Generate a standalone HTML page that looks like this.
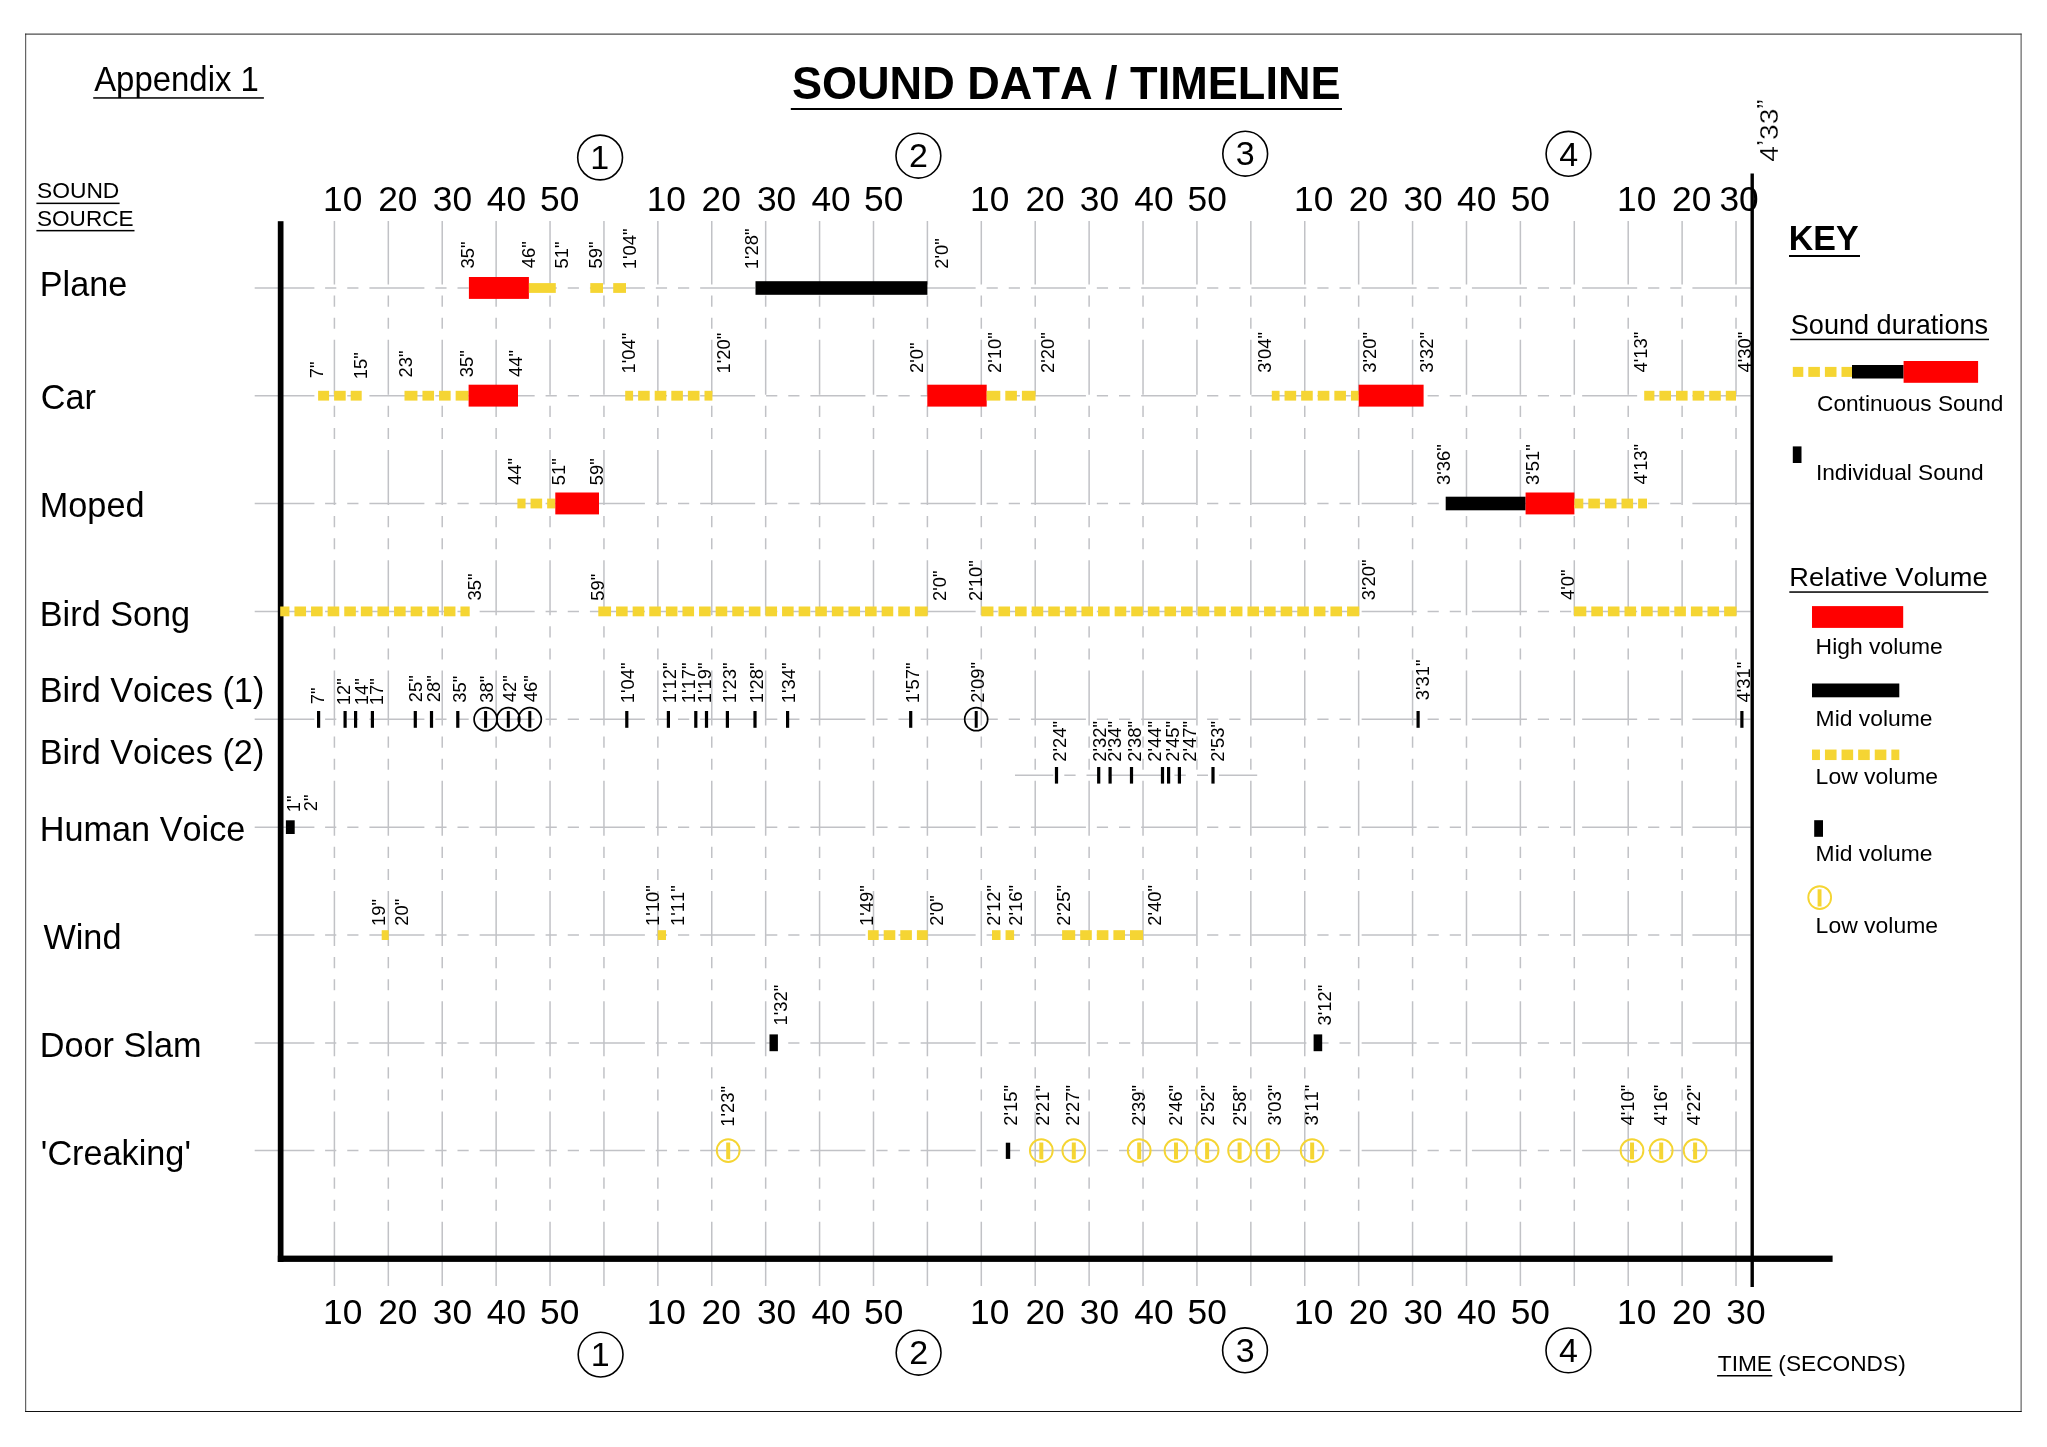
<!DOCTYPE html>
<html><head><meta charset="utf-8"><title>Sound Data / Timeline</title>
<style>html,body{margin:0;padding:0;background:#fff;width:2047px;height:1447px;overflow:hidden}text{font-kerning:none}</style>
</head><body>
<svg width="2047" height="1447" viewBox="0 0 2047 1447" font-family="'Liberation Sans', Arial, sans-serif" style="display:block;font-kerning:none;will-change:transform">
<rect x="0" y="0" width="2047" height="1447" fill="#fff"/>
<rect x="25.1" y="33.6" width="1.1" height="1378.4" fill="#555"/>
<rect x="25.1" y="33.6" width="1996.5" height="1" fill="#222"/>
<rect x="2020.6" y="33.6" width="1" height="1378.4" fill="#444"/>
<rect x="25.1" y="1411" width="1996.5" height="1" fill="#111"/>
<path d="M334.41 221V284.6M334.41 295.5V306.7M334.41 317.65V328.85M334.41 339.8V394.8M334.41 405.75V416.95M334.41 427.9V439.1M334.41 450.05V505.05M334.41 516V527.2M334.41 538.15V549.35M334.41 560.3V615.3M334.41 626.25V637.45M334.41 648.4V659.6M334.41 670.55V725.55M334.41 736.5V747.7M334.41 758.65V769.85M334.41 780.8V835.8M334.41 846.75V857.95M334.41 868.9V880.1M334.41 891.05V946.05M334.41 957V968.2M334.41 979.15V990.35M334.41 1001.3V1056.3M334.41 1067.25V1078.45M334.41 1089.4V1100.6M334.41 1111.55V1166.55M334.41 1177.5V1188.7M334.41 1199.65V1210.85M334.41 1221.8V1276.8M334.41 1221.8V1286M388.32 221V284.6M388.32 295.5V306.7M388.32 317.65V328.85M388.32 339.8V394.8M388.32 405.75V416.95M388.32 427.9V439.1M388.32 450.05V505.05M388.32 516V527.2M388.32 538.15V549.35M388.32 560.3V615.3M388.32 626.25V637.45M388.32 648.4V659.6M388.32 670.55V725.55M388.32 736.5V747.7M388.32 758.65V769.85M388.32 780.8V835.8M388.32 846.75V857.95M388.32 868.9V880.1M388.32 891.05V946.05M388.32 957V968.2M388.32 979.15V990.35M388.32 1001.3V1056.3M388.32 1067.25V1078.45M388.32 1089.4V1100.6M388.32 1111.55V1166.55M388.32 1177.5V1188.7M388.32 1199.65V1210.85M388.32 1221.8V1276.8M388.32 1221.8V1286M442.22 221V284.6M442.22 295.5V306.7M442.22 317.65V328.85M442.22 339.8V394.8M442.22 405.75V416.95M442.22 427.9V439.1M442.22 450.05V505.05M442.22 516V527.2M442.22 538.15V549.35M442.22 560.3V615.3M442.22 626.25V637.45M442.22 648.4V659.6M442.22 670.55V725.55M442.22 736.5V747.7M442.22 758.65V769.85M442.22 780.8V835.8M442.22 846.75V857.95M442.22 868.9V880.1M442.22 891.05V946.05M442.22 957V968.2M442.22 979.15V990.35M442.22 1001.3V1056.3M442.22 1067.25V1078.45M442.22 1089.4V1100.6M442.22 1111.55V1166.55M442.22 1177.5V1188.7M442.22 1199.65V1210.85M442.22 1221.8V1276.8M442.22 1221.8V1286M496.13 221V284.6M496.13 295.5V306.7M496.13 317.65V328.85M496.13 339.8V394.8M496.13 405.75V416.95M496.13 427.9V439.1M496.13 450.05V505.05M496.13 516V527.2M496.13 538.15V549.35M496.13 560.3V615.3M496.13 626.25V637.45M496.13 648.4V659.6M496.13 670.55V725.55M496.13 736.5V747.7M496.13 758.65V769.85M496.13 780.8V835.8M496.13 846.75V857.95M496.13 868.9V880.1M496.13 891.05V946.05M496.13 957V968.2M496.13 979.15V990.35M496.13 1001.3V1056.3M496.13 1067.25V1078.45M496.13 1089.4V1100.6M496.13 1111.55V1166.55M496.13 1177.5V1188.7M496.13 1199.65V1210.85M496.13 1221.8V1276.8M496.13 1221.8V1286M550.04 221V284.6M550.04 295.5V306.7M550.04 317.65V328.85M550.04 339.8V394.8M550.04 405.75V416.95M550.04 427.9V439.1M550.04 450.05V505.05M550.04 516V527.2M550.04 538.15V549.35M550.04 560.3V615.3M550.04 626.25V637.45M550.04 648.4V659.6M550.04 670.55V725.55M550.04 736.5V747.7M550.04 758.65V769.85M550.04 780.8V835.8M550.04 846.75V857.95M550.04 868.9V880.1M550.04 891.05V946.05M550.04 957V968.2M550.04 979.15V990.35M550.04 1001.3V1056.3M550.04 1067.25V1078.45M550.04 1089.4V1100.6M550.04 1111.55V1166.55M550.04 1177.5V1188.7M550.04 1199.65V1210.85M550.04 1221.8V1276.8M550.04 1221.8V1286M603.95 221V284.6M603.95 295.5V306.7M603.95 317.65V328.85M603.95 339.8V394.8M603.95 405.75V416.95M603.95 427.9V439.1M603.95 450.05V505.05M603.95 516V527.2M603.95 538.15V549.35M603.95 560.3V615.3M603.95 626.25V637.45M603.95 648.4V659.6M603.95 670.55V725.55M603.95 736.5V747.7M603.95 758.65V769.85M603.95 780.8V835.8M603.95 846.75V857.95M603.95 868.9V880.1M603.95 891.05V946.05M603.95 957V968.2M603.95 979.15V990.35M603.95 1001.3V1056.3M603.95 1067.25V1078.45M603.95 1089.4V1100.6M603.95 1111.55V1166.55M603.95 1177.5V1188.7M603.95 1199.65V1210.85M603.95 1221.8V1276.8M603.95 1221.8V1286M657.86 221V284.6M657.86 295.5V306.7M657.86 317.65V328.85M657.86 339.8V394.8M657.86 405.75V416.95M657.86 427.9V439.1M657.86 450.05V505.05M657.86 516V527.2M657.86 538.15V549.35M657.86 560.3V615.3M657.86 626.25V637.45M657.86 648.4V659.6M657.86 670.55V725.55M657.86 736.5V747.7M657.86 758.65V769.85M657.86 780.8V835.8M657.86 846.75V857.95M657.86 868.9V880.1M657.86 891.05V946.05M657.86 957V968.2M657.86 979.15V990.35M657.86 1001.3V1056.3M657.86 1067.25V1078.45M657.86 1089.4V1100.6M657.86 1111.55V1166.55M657.86 1177.5V1188.7M657.86 1199.65V1210.85M657.86 1221.8V1276.8M657.86 1221.8V1286M711.76 221V284.6M711.76 295.5V306.7M711.76 317.65V328.85M711.76 339.8V394.8M711.76 405.75V416.95M711.76 427.9V439.1M711.76 450.05V505.05M711.76 516V527.2M711.76 538.15V549.35M711.76 560.3V615.3M711.76 626.25V637.45M711.76 648.4V659.6M711.76 670.55V725.55M711.76 736.5V747.7M711.76 758.65V769.85M711.76 780.8V835.8M711.76 846.75V857.95M711.76 868.9V880.1M711.76 891.05V946.05M711.76 957V968.2M711.76 979.15V990.35M711.76 1001.3V1056.3M711.76 1067.25V1078.45M711.76 1089.4V1100.6M711.76 1111.55V1166.55M711.76 1177.5V1188.7M711.76 1199.65V1210.85M711.76 1221.8V1276.8M711.76 1221.8V1286M765.67 221V284.6M765.67 295.5V306.7M765.67 317.65V328.85M765.67 339.8V394.8M765.67 405.75V416.95M765.67 427.9V439.1M765.67 450.05V505.05M765.67 516V527.2M765.67 538.15V549.35M765.67 560.3V615.3M765.67 626.25V637.45M765.67 648.4V659.6M765.67 670.55V725.55M765.67 736.5V747.7M765.67 758.65V769.85M765.67 780.8V835.8M765.67 846.75V857.95M765.67 868.9V880.1M765.67 891.05V946.05M765.67 957V968.2M765.67 979.15V990.35M765.67 1001.3V1056.3M765.67 1067.25V1078.45M765.67 1089.4V1100.6M765.67 1111.55V1166.55M765.67 1177.5V1188.7M765.67 1199.65V1210.85M765.67 1221.8V1276.8M765.67 1221.8V1286M819.58 221V284.6M819.58 295.5V306.7M819.58 317.65V328.85M819.58 339.8V394.8M819.58 405.75V416.95M819.58 427.9V439.1M819.58 450.05V505.05M819.58 516V527.2M819.58 538.15V549.35M819.58 560.3V615.3M819.58 626.25V637.45M819.58 648.4V659.6M819.58 670.55V725.55M819.58 736.5V747.7M819.58 758.65V769.85M819.58 780.8V835.8M819.58 846.75V857.95M819.58 868.9V880.1M819.58 891.05V946.05M819.58 957V968.2M819.58 979.15V990.35M819.58 1001.3V1056.3M819.58 1067.25V1078.45M819.58 1089.4V1100.6M819.58 1111.55V1166.55M819.58 1177.5V1188.7M819.58 1199.65V1210.85M819.58 1221.8V1276.8M819.58 1221.8V1286M873.49 221V284.6M873.49 295.5V306.7M873.49 317.65V328.85M873.49 339.8V394.8M873.49 405.75V416.95M873.49 427.9V439.1M873.49 450.05V505.05M873.49 516V527.2M873.49 538.15V549.35M873.49 560.3V615.3M873.49 626.25V637.45M873.49 648.4V659.6M873.49 670.55V725.55M873.49 736.5V747.7M873.49 758.65V769.85M873.49 780.8V835.8M873.49 846.75V857.95M873.49 868.9V880.1M873.49 891.05V946.05M873.49 957V968.2M873.49 979.15V990.35M873.49 1001.3V1056.3M873.49 1067.25V1078.45M873.49 1089.4V1100.6M873.49 1111.55V1166.55M873.49 1177.5V1188.7M873.49 1199.65V1210.85M873.49 1221.8V1276.8M873.49 1221.8V1286M927.4 221V284.6M927.4 295.5V306.7M927.4 317.65V328.85M927.4 339.8V394.8M927.4 405.75V416.95M927.4 427.9V439.1M927.4 450.05V505.05M927.4 516V527.2M927.4 538.15V549.35M927.4 560.3V615.3M927.4 626.25V637.45M927.4 648.4V659.6M927.4 670.55V725.55M927.4 736.5V747.7M927.4 758.65V769.85M927.4 780.8V835.8M927.4 846.75V857.95M927.4 868.9V880.1M927.4 891.05V946.05M927.4 957V968.2M927.4 979.15V990.35M927.4 1001.3V1056.3M927.4 1067.25V1078.45M927.4 1089.4V1100.6M927.4 1111.55V1166.55M927.4 1177.5V1188.7M927.4 1199.65V1210.85M927.4 1221.8V1276.8M927.4 1221.8V1286M981.3 221V284.6M981.3 295.5V306.7M981.3 317.65V328.85M981.3 339.8V394.8M981.3 405.75V416.95M981.3 427.9V439.1M981.3 450.05V505.05M981.3 516V527.2M981.3 538.15V549.35M981.3 560.3V615.3M981.3 626.25V637.45M981.3 648.4V659.6M981.3 670.55V725.55M981.3 736.5V747.7M981.3 758.65V769.85M981.3 780.8V835.8M981.3 846.75V857.95M981.3 868.9V880.1M981.3 891.05V946.05M981.3 957V968.2M981.3 979.15V990.35M981.3 1001.3V1056.3M981.3 1067.25V1078.45M981.3 1089.4V1100.6M981.3 1111.55V1166.55M981.3 1177.5V1188.7M981.3 1199.65V1210.85M981.3 1221.8V1276.8M981.3 1221.8V1286M1035.21 221V284.6M1035.21 295.5V306.7M1035.21 317.65V328.85M1035.21 339.8V394.8M1035.21 405.75V416.95M1035.21 427.9V439.1M1035.21 450.05V505.05M1035.21 516V527.2M1035.21 538.15V549.35M1035.21 560.3V615.3M1035.21 626.25V637.45M1035.21 648.4V659.6M1035.21 670.55V725.55M1035.21 736.5V747.7M1035.21 758.65V769.85M1035.21 780.8V835.8M1035.21 846.75V857.95M1035.21 868.9V880.1M1035.21 891.05V946.05M1035.21 957V968.2M1035.21 979.15V990.35M1035.21 1001.3V1056.3M1035.21 1067.25V1078.45M1035.21 1089.4V1100.6M1035.21 1111.55V1166.55M1035.21 1177.5V1188.7M1035.21 1199.65V1210.85M1035.21 1221.8V1276.8M1035.21 1221.8V1286M1089.12 221V284.6M1089.12 295.5V306.7M1089.12 317.65V328.85M1089.12 339.8V394.8M1089.12 405.75V416.95M1089.12 427.9V439.1M1089.12 450.05V505.05M1089.12 516V527.2M1089.12 538.15V549.35M1089.12 560.3V615.3M1089.12 626.25V637.45M1089.12 648.4V659.6M1089.12 670.55V725.55M1089.12 736.5V747.7M1089.12 758.65V769.85M1089.12 780.8V835.8M1089.12 846.75V857.95M1089.12 868.9V880.1M1089.12 891.05V946.05M1089.12 957V968.2M1089.12 979.15V990.35M1089.12 1001.3V1056.3M1089.12 1067.25V1078.45M1089.12 1089.4V1100.6M1089.12 1111.55V1166.55M1089.12 1177.5V1188.7M1089.12 1199.65V1210.85M1089.12 1221.8V1276.8M1089.12 1221.8V1286M1143.03 221V284.6M1143.03 295.5V306.7M1143.03 317.65V328.85M1143.03 339.8V394.8M1143.03 405.75V416.95M1143.03 427.9V439.1M1143.03 450.05V505.05M1143.03 516V527.2M1143.03 538.15V549.35M1143.03 560.3V615.3M1143.03 626.25V637.45M1143.03 648.4V659.6M1143.03 670.55V725.55M1143.03 736.5V747.7M1143.03 758.65V769.85M1143.03 780.8V835.8M1143.03 846.75V857.95M1143.03 868.9V880.1M1143.03 891.05V946.05M1143.03 957V968.2M1143.03 979.15V990.35M1143.03 1001.3V1056.3M1143.03 1067.25V1078.45M1143.03 1089.4V1100.6M1143.03 1111.55V1166.55M1143.03 1177.5V1188.7M1143.03 1199.65V1210.85M1143.03 1221.8V1276.8M1143.03 1221.8V1286M1196.94 221V284.6M1196.94 295.5V306.7M1196.94 317.65V328.85M1196.94 339.8V394.8M1196.94 405.75V416.95M1196.94 427.9V439.1M1196.94 450.05V505.05M1196.94 516V527.2M1196.94 538.15V549.35M1196.94 560.3V615.3M1196.94 626.25V637.45M1196.94 648.4V659.6M1196.94 670.55V725.55M1196.94 736.5V747.7M1196.94 758.65V769.85M1196.94 780.8V835.8M1196.94 846.75V857.95M1196.94 868.9V880.1M1196.94 891.05V946.05M1196.94 957V968.2M1196.94 979.15V990.35M1196.94 1001.3V1056.3M1196.94 1067.25V1078.45M1196.94 1089.4V1100.6M1196.94 1111.55V1166.55M1196.94 1177.5V1188.7M1196.94 1199.65V1210.85M1196.94 1221.8V1276.8M1196.94 1221.8V1286M1250.84 221V284.6M1250.84 295.5V306.7M1250.84 317.65V328.85M1250.84 339.8V394.8M1250.84 405.75V416.95M1250.84 427.9V439.1M1250.84 450.05V505.05M1250.84 516V527.2M1250.84 538.15V549.35M1250.84 560.3V615.3M1250.84 626.25V637.45M1250.84 648.4V659.6M1250.84 670.55V725.55M1250.84 736.5V747.7M1250.84 758.65V769.85M1250.84 780.8V835.8M1250.84 846.75V857.95M1250.84 868.9V880.1M1250.84 891.05V946.05M1250.84 957V968.2M1250.84 979.15V990.35M1250.84 1001.3V1056.3M1250.84 1067.25V1078.45M1250.84 1089.4V1100.6M1250.84 1111.55V1166.55M1250.84 1177.5V1188.7M1250.84 1199.65V1210.85M1250.84 1221.8V1276.8M1250.84 1221.8V1286M1304.75 221V284.6M1304.75 295.5V306.7M1304.75 317.65V328.85M1304.75 339.8V394.8M1304.75 405.75V416.95M1304.75 427.9V439.1M1304.75 450.05V505.05M1304.75 516V527.2M1304.75 538.15V549.35M1304.75 560.3V615.3M1304.75 626.25V637.45M1304.75 648.4V659.6M1304.75 670.55V725.55M1304.75 736.5V747.7M1304.75 758.65V769.85M1304.75 780.8V835.8M1304.75 846.75V857.95M1304.75 868.9V880.1M1304.75 891.05V946.05M1304.75 957V968.2M1304.75 979.15V990.35M1304.75 1001.3V1056.3M1304.75 1067.25V1078.45M1304.75 1089.4V1100.6M1304.75 1111.55V1166.55M1304.75 1177.5V1188.7M1304.75 1199.65V1210.85M1304.75 1221.8V1276.8M1304.75 1221.8V1286M1358.66 221V284.6M1358.66 295.5V306.7M1358.66 317.65V328.85M1358.66 339.8V394.8M1358.66 405.75V416.95M1358.66 427.9V439.1M1358.66 450.05V505.05M1358.66 516V527.2M1358.66 538.15V549.35M1358.66 560.3V615.3M1358.66 626.25V637.45M1358.66 648.4V659.6M1358.66 670.55V725.55M1358.66 736.5V747.7M1358.66 758.65V769.85M1358.66 780.8V835.8M1358.66 846.75V857.95M1358.66 868.9V880.1M1358.66 891.05V946.05M1358.66 957V968.2M1358.66 979.15V990.35M1358.66 1001.3V1056.3M1358.66 1067.25V1078.45M1358.66 1089.4V1100.6M1358.66 1111.55V1166.55M1358.66 1177.5V1188.7M1358.66 1199.65V1210.85M1358.66 1221.8V1276.8M1358.66 1221.8V1286M1412.57 221V284.6M1412.57 295.5V306.7M1412.57 317.65V328.85M1412.57 339.8V394.8M1412.57 405.75V416.95M1412.57 427.9V439.1M1412.57 450.05V505.05M1412.57 516V527.2M1412.57 538.15V549.35M1412.57 560.3V615.3M1412.57 626.25V637.45M1412.57 648.4V659.6M1412.57 670.55V725.55M1412.57 736.5V747.7M1412.57 758.65V769.85M1412.57 780.8V835.8M1412.57 846.75V857.95M1412.57 868.9V880.1M1412.57 891.05V946.05M1412.57 957V968.2M1412.57 979.15V990.35M1412.57 1001.3V1056.3M1412.57 1067.25V1078.45M1412.57 1089.4V1100.6M1412.57 1111.55V1166.55M1412.57 1177.5V1188.7M1412.57 1199.65V1210.85M1412.57 1221.8V1276.8M1412.57 1221.8V1286M1466.48 221V284.6M1466.48 295.5V306.7M1466.48 317.65V328.85M1466.48 339.8V394.8M1466.48 405.75V416.95M1466.48 427.9V439.1M1466.48 450.05V505.05M1466.48 516V527.2M1466.48 538.15V549.35M1466.48 560.3V615.3M1466.48 626.25V637.45M1466.48 648.4V659.6M1466.48 670.55V725.55M1466.48 736.5V747.7M1466.48 758.65V769.85M1466.48 780.8V835.8M1466.48 846.75V857.95M1466.48 868.9V880.1M1466.48 891.05V946.05M1466.48 957V968.2M1466.48 979.15V990.35M1466.48 1001.3V1056.3M1466.48 1067.25V1078.45M1466.48 1089.4V1100.6M1466.48 1111.55V1166.55M1466.48 1177.5V1188.7M1466.48 1199.65V1210.85M1466.48 1221.8V1276.8M1466.48 1221.8V1286M1520.38 221V284.6M1520.38 295.5V306.7M1520.38 317.65V328.85M1520.38 339.8V394.8M1520.38 405.75V416.95M1520.38 427.9V439.1M1520.38 450.05V505.05M1520.38 516V527.2M1520.38 538.15V549.35M1520.38 560.3V615.3M1520.38 626.25V637.45M1520.38 648.4V659.6M1520.38 670.55V725.55M1520.38 736.5V747.7M1520.38 758.65V769.85M1520.38 780.8V835.8M1520.38 846.75V857.95M1520.38 868.9V880.1M1520.38 891.05V946.05M1520.38 957V968.2M1520.38 979.15V990.35M1520.38 1001.3V1056.3M1520.38 1067.25V1078.45M1520.38 1089.4V1100.6M1520.38 1111.55V1166.55M1520.38 1177.5V1188.7M1520.38 1199.65V1210.85M1520.38 1221.8V1276.8M1520.38 1221.8V1286M1574.29 221V284.6M1574.29 295.5V306.7M1574.29 317.65V328.85M1574.29 339.8V394.8M1574.29 405.75V416.95M1574.29 427.9V439.1M1574.29 450.05V505.05M1574.29 516V527.2M1574.29 538.15V549.35M1574.29 560.3V615.3M1574.29 626.25V637.45M1574.29 648.4V659.6M1574.29 670.55V725.55M1574.29 736.5V747.7M1574.29 758.65V769.85M1574.29 780.8V835.8M1574.29 846.75V857.95M1574.29 868.9V880.1M1574.29 891.05V946.05M1574.29 957V968.2M1574.29 979.15V990.35M1574.29 1001.3V1056.3M1574.29 1067.25V1078.45M1574.29 1089.4V1100.6M1574.29 1111.55V1166.55M1574.29 1177.5V1188.7M1574.29 1199.65V1210.85M1574.29 1221.8V1276.8M1574.29 1221.8V1286M1628.2 221V284.6M1628.2 295.5V306.7M1628.2 317.65V328.85M1628.2 339.8V394.8M1628.2 405.75V416.95M1628.2 427.9V439.1M1628.2 450.05V505.05M1628.2 516V527.2M1628.2 538.15V549.35M1628.2 560.3V615.3M1628.2 626.25V637.45M1628.2 648.4V659.6M1628.2 670.55V725.55M1628.2 736.5V747.7M1628.2 758.65V769.85M1628.2 780.8V835.8M1628.2 846.75V857.95M1628.2 868.9V880.1M1628.2 891.05V946.05M1628.2 957V968.2M1628.2 979.15V990.35M1628.2 1001.3V1056.3M1628.2 1067.25V1078.45M1628.2 1089.4V1100.6M1628.2 1111.55V1166.55M1628.2 1177.5V1188.7M1628.2 1199.65V1210.85M1628.2 1221.8V1276.8M1628.2 1221.8V1286M1682.11 221V284.6M1682.11 295.5V306.7M1682.11 317.65V328.85M1682.11 339.8V394.8M1682.11 405.75V416.95M1682.11 427.9V439.1M1682.11 450.05V505.05M1682.11 516V527.2M1682.11 538.15V549.35M1682.11 560.3V615.3M1682.11 626.25V637.45M1682.11 648.4V659.6M1682.11 670.55V725.55M1682.11 736.5V747.7M1682.11 758.65V769.85M1682.11 780.8V835.8M1682.11 846.75V857.95M1682.11 868.9V880.1M1682.11 891.05V946.05M1682.11 957V968.2M1682.11 979.15V990.35M1682.11 1001.3V1056.3M1682.11 1067.25V1078.45M1682.11 1089.4V1100.6M1682.11 1111.55V1166.55M1682.11 1177.5V1188.7M1682.11 1199.65V1210.85M1682.11 1221.8V1276.8M1682.11 1221.8V1286M1736.02 221V284.6M1736.02 295.5V306.7M1736.02 317.65V328.85M1736.02 339.8V394.8M1736.02 405.75V416.95M1736.02 427.9V439.1M1736.02 450.05V505.05M1736.02 516V527.2M1736.02 538.15V549.35M1736.02 560.3V615.3M1736.02 626.25V637.45M1736.02 648.4V659.6M1736.02 670.55V725.55M1736.02 736.5V747.7M1736.02 758.65V769.85M1736.02 780.8V835.8M1736.02 846.75V857.95M1736.02 868.9V880.1M1736.02 891.05V946.05M1736.02 957V968.2M1736.02 979.15V990.35M1736.02 1001.3V1056.3M1736.02 1067.25V1078.45M1736.02 1089.4V1100.6M1736.02 1111.55V1166.55M1736.02 1177.5V1188.7M1736.02 1199.65V1210.85M1736.02 1221.8V1276.8M1736.02 1221.8V1286" stroke="#c1c2c6" stroke-width="1.5" fill="none"/>
<path d="M254.7 288H314.4M325.1 288H336.3M347.25 288H358.45M369.4 288H424.4M435.35 288H446.55M457.5 288H468.7M479.65 288H534.65M545.6 288H556.8M567.75 288H578.95M589.9 288H644.9M655.85 288H667.05M678 288H689.2M700.15 288H755.15M766.1 288H777.3M788.25 288H799.45M810.4 288H865.4M876.35 288H887.55M898.5 288H909.7M920.65 288H975.65M986.6 288H997.8M1008.75 288H1019.95M1030.9 288H1085.9M1096.85 288H1108.05M1119 288H1130.2M1141.15 288H1196.15M1207.1 288H1218.3M1229.25 288H1240.45M1251.4 288H1306.4M1317.35 288H1328.55M1339.5 288H1350.7M1361.65 288H1416.65M1427.6 288H1438.8M1449.75 288H1460.95M1471.9 288H1526.9M1537.85 288H1549.05M1560 288H1571.2M1582.15 288H1637.15M1648.1 288H1659.3M1670.25 288H1681.45M1692.4 288H1750.5M254.7 395.7H314.4M325.1 395.7H336.3M347.25 395.7H358.45M369.4 395.7H424.4M435.35 395.7H446.55M457.5 395.7H468.7M479.65 395.7H534.65M545.6 395.7H556.8M567.75 395.7H578.95M589.9 395.7H644.9M655.85 395.7H667.05M678 395.7H689.2M700.15 395.7H755.15M766.1 395.7H777.3M788.25 395.7H799.45M810.4 395.7H865.4M876.35 395.7H887.55M898.5 395.7H909.7M920.65 395.7H975.65M986.6 395.7H997.8M1008.75 395.7H1019.95M1030.9 395.7H1085.9M1096.85 395.7H1108.05M1119 395.7H1130.2M1141.15 395.7H1196.15M1207.1 395.7H1218.3M1229.25 395.7H1240.45M1251.4 395.7H1306.4M1317.35 395.7H1328.55M1339.5 395.7H1350.7M1361.65 395.7H1416.65M1427.6 395.7H1438.8M1449.75 395.7H1460.95M1471.9 395.7H1526.9M1537.85 395.7H1549.05M1560 395.7H1571.2M1582.15 395.7H1637.15M1648.1 395.7H1659.3M1670.25 395.7H1681.45M1692.4 395.7H1750.5M254.7 503.5H314.4M325.1 503.5H336.3M347.25 503.5H358.45M369.4 503.5H424.4M435.35 503.5H446.55M457.5 503.5H468.7M479.65 503.5H534.65M545.6 503.5H556.8M567.75 503.5H578.95M589.9 503.5H644.9M655.85 503.5H667.05M678 503.5H689.2M700.15 503.5H755.15M766.1 503.5H777.3M788.25 503.5H799.45M810.4 503.5H865.4M876.35 503.5H887.55M898.5 503.5H909.7M920.65 503.5H975.65M986.6 503.5H997.8M1008.75 503.5H1019.95M1030.9 503.5H1085.9M1096.85 503.5H1108.05M1119 503.5H1130.2M1141.15 503.5H1196.15M1207.1 503.5H1218.3M1229.25 503.5H1240.45M1251.4 503.5H1306.4M1317.35 503.5H1328.55M1339.5 503.5H1350.7M1361.65 503.5H1416.65M1427.6 503.5H1438.8M1449.75 503.5H1460.95M1471.9 503.5H1526.9M1537.85 503.5H1549.05M1560 503.5H1571.2M1582.15 503.5H1637.15M1648.1 503.5H1659.3M1670.25 503.5H1681.45M1692.4 503.5H1750.5M254.7 611.4H314.4M325.1 611.4H336.3M347.25 611.4H358.45M369.4 611.4H424.4M435.35 611.4H446.55M457.5 611.4H468.7M479.65 611.4H534.65M545.6 611.4H556.8M567.75 611.4H578.95M589.9 611.4H644.9M655.85 611.4H667.05M678 611.4H689.2M700.15 611.4H755.15M766.1 611.4H777.3M788.25 611.4H799.45M810.4 611.4H865.4M876.35 611.4H887.55M898.5 611.4H909.7M920.65 611.4H975.65M986.6 611.4H997.8M1008.75 611.4H1019.95M1030.9 611.4H1085.9M1096.85 611.4H1108.05M1119 611.4H1130.2M1141.15 611.4H1196.15M1207.1 611.4H1218.3M1229.25 611.4H1240.45M1251.4 611.4H1306.4M1317.35 611.4H1328.55M1339.5 611.4H1350.7M1361.65 611.4H1416.65M1427.6 611.4H1438.8M1449.75 611.4H1460.95M1471.9 611.4H1526.9M1537.85 611.4H1549.05M1560 611.4H1571.2M1582.15 611.4H1637.15M1648.1 611.4H1659.3M1670.25 611.4H1681.45M1692.4 611.4H1750.5M254.7 719.2H314.4M325.1 719.2H336.3M347.25 719.2H358.45M369.4 719.2H424.4M435.35 719.2H446.55M457.5 719.2H468.7M479.65 719.2H534.65M545.6 719.2H556.8M567.75 719.2H578.95M589.9 719.2H644.9M655.85 719.2H667.05M678 719.2H689.2M700.15 719.2H755.15M766.1 719.2H777.3M788.25 719.2H799.45M810.4 719.2H865.4M876.35 719.2H887.55M898.5 719.2H909.7M920.65 719.2H975.65M986.6 719.2H997.8M1008.75 719.2H1019.95M1030.9 719.2H1085.9M1096.85 719.2H1108.05M1119 719.2H1130.2M1141.15 719.2H1196.15M1207.1 719.2H1218.3M1229.25 719.2H1240.45M1251.4 719.2H1306.4M1317.35 719.2H1328.55M1339.5 719.2H1350.7M1361.65 719.2H1416.65M1427.6 719.2H1438.8M1449.75 719.2H1460.95M1471.9 719.2H1526.9M1537.85 719.2H1549.05M1560 719.2H1571.2M1582.15 719.2H1637.15M1648.1 719.2H1659.3M1670.25 719.2H1681.45M1692.4 719.2H1750.5M254.7 827.3H314.4M325.1 827.3H336.3M347.25 827.3H358.45M369.4 827.3H424.4M435.35 827.3H446.55M457.5 827.3H468.7M479.65 827.3H534.65M545.6 827.3H556.8M567.75 827.3H578.95M589.9 827.3H644.9M655.85 827.3H667.05M678 827.3H689.2M700.15 827.3H755.15M766.1 827.3H777.3M788.25 827.3H799.45M810.4 827.3H865.4M876.35 827.3H887.55M898.5 827.3H909.7M920.65 827.3H975.65M986.6 827.3H997.8M1008.75 827.3H1019.95M1030.9 827.3H1085.9M1096.85 827.3H1108.05M1119 827.3H1130.2M1141.15 827.3H1196.15M1207.1 827.3H1218.3M1229.25 827.3H1240.45M1251.4 827.3H1306.4M1317.35 827.3H1328.55M1339.5 827.3H1350.7M1361.65 827.3H1416.65M1427.6 827.3H1438.8M1449.75 827.3H1460.95M1471.9 827.3H1526.9M1537.85 827.3H1549.05M1560 827.3H1571.2M1582.15 827.3H1637.15M1648.1 827.3H1659.3M1670.25 827.3H1681.45M1692.4 827.3H1750.5M254.7 935.1H314.4M325.1 935.1H336.3M347.25 935.1H358.45M369.4 935.1H424.4M435.35 935.1H446.55M457.5 935.1H468.7M479.65 935.1H534.65M545.6 935.1H556.8M567.75 935.1H578.95M589.9 935.1H644.9M655.85 935.1H667.05M678 935.1H689.2M700.15 935.1H755.15M766.1 935.1H777.3M788.25 935.1H799.45M810.4 935.1H865.4M876.35 935.1H887.55M898.5 935.1H909.7M920.65 935.1H975.65M986.6 935.1H997.8M1008.75 935.1H1019.95M1030.9 935.1H1085.9M1096.85 935.1H1108.05M1119 935.1H1130.2M1141.15 935.1H1196.15M1207.1 935.1H1218.3M1229.25 935.1H1240.45M1251.4 935.1H1306.4M1317.35 935.1H1328.55M1339.5 935.1H1350.7M1361.65 935.1H1416.65M1427.6 935.1H1438.8M1449.75 935.1H1460.95M1471.9 935.1H1526.9M1537.85 935.1H1549.05M1560 935.1H1571.2M1582.15 935.1H1637.15M1648.1 935.1H1659.3M1670.25 935.1H1681.45M1692.4 935.1H1750.5M254.7 1042.9H314.4M325.1 1042.9H336.3M347.25 1042.9H358.45M369.4 1042.9H424.4M435.35 1042.9H446.55M457.5 1042.9H468.7M479.65 1042.9H534.65M545.6 1042.9H556.8M567.75 1042.9H578.95M589.9 1042.9H644.9M655.85 1042.9H667.05M678 1042.9H689.2M700.15 1042.9H755.15M766.1 1042.9H777.3M788.25 1042.9H799.45M810.4 1042.9H865.4M876.35 1042.9H887.55M898.5 1042.9H909.7M920.65 1042.9H975.65M986.6 1042.9H997.8M1008.75 1042.9H1019.95M1030.9 1042.9H1085.9M1096.85 1042.9H1108.05M1119 1042.9H1130.2M1141.15 1042.9H1196.15M1207.1 1042.9H1218.3M1229.25 1042.9H1240.45M1251.4 1042.9H1306.4M1317.35 1042.9H1328.55M1339.5 1042.9H1350.7M1361.65 1042.9H1416.65M1427.6 1042.9H1438.8M1449.75 1042.9H1460.95M1471.9 1042.9H1526.9M1537.85 1042.9H1549.05M1560 1042.9H1571.2M1582.15 1042.9H1637.15M1648.1 1042.9H1659.3M1670.25 1042.9H1681.45M1692.4 1042.9H1750.5M254.7 1150.6H314.4M325.1 1150.6H336.3M347.25 1150.6H358.45M369.4 1150.6H424.4M435.35 1150.6H446.55M457.5 1150.6H468.7M479.65 1150.6H534.65M545.6 1150.6H556.8M567.75 1150.6H578.95M589.9 1150.6H644.9M655.85 1150.6H667.05M678 1150.6H689.2M700.15 1150.6H755.15M766.1 1150.6H777.3M788.25 1150.6H799.45M810.4 1150.6H865.4M876.35 1150.6H887.55M898.5 1150.6H909.7M920.65 1150.6H975.65M986.6 1150.6H997.8M1008.75 1150.6H1019.95M1030.9 1150.6H1085.9M1096.85 1150.6H1108.05M1119 1150.6H1130.2M1141.15 1150.6H1196.15M1207.1 1150.6H1218.3M1229.25 1150.6H1240.45M1251.4 1150.6H1306.4M1317.35 1150.6H1328.55M1339.5 1150.6H1350.7M1361.65 1150.6H1416.65M1427.6 1150.6H1438.8M1449.75 1150.6H1460.95M1471.9 1150.6H1526.9M1537.85 1150.6H1549.05M1560 1150.6H1571.2M1582.15 1150.6H1637.15M1648.1 1150.6H1659.3M1670.25 1150.6H1681.45M1692.4 1150.6H1750.5M1015 775.3H1053.3M1064.3 775.3H1075.6M1086.5 775.3H1097.7M1108.6 775.3H1163.6M1174.4 775.3H1185.8M1197 775.3H1208M1218.9 775.3H1257.2" stroke="#c1c2c6" stroke-width="1.5" fill="none"/>
<rect x="277.8" y="221.2" width="5.7" height="1040.8" fill="#000"/>
<rect x="277.8" y="1255.6" width="1554.8" height="6.3" fill="#000"/>
<rect x="1750.5" y="173.5" width="3.4" height="1113.5" fill="#000"/>
<text transform="translate(94.14,90.8) scale(0.9285,1)" font-size="35.47" fill="#000">Appendix 1</text>
<rect x="93.2" y="97.2" width="170.7" height="1.5" fill="#000"/>
<text transform="translate(791.9,99) scale(0.9701,1)" font-size="46.51" font-weight="bold" fill="#000">SOUND DATA / TIMELINE</text>
<rect x="790.8" y="108" width="551.2" height="2" fill="#000"/>
<text transform="translate(36.96,197.7) scale(1.0400,1)" font-size="21.95" fill="#000">SOUND</text>
<rect x="36.4" y="202.6" width="83.2" height="1.5" fill="#000"/>
<text transform="translate(36.97,225.7) scale(1.0022,1)" font-size="22.53" fill="#000">SOURCE</text>
<rect x="36.4" y="229.9" width="98.1" height="1.5" fill="#000"/>
<text transform="translate(39.79,296.4) scale(0.9900,1)" font-size="34.6" fill="#000">Plane</text>
<text transform="translate(40.86,409.2) scale(0.9900,1)" font-size="34.6" fill="#000">Car</text>
<text transform="translate(39.79,517.1) scale(0.9900,1)" font-size="34.6" fill="#000">Moped</text>
<text transform="translate(39.79,625.5) scale(0.9900,1)" font-size="34.6" fill="#000">Bird Song</text>
<text transform="translate(39.79,702.1) scale(0.9900,1)" font-size="34.6" fill="#000">Bird Voices (1)</text>
<text transform="translate(39.79,764.1) scale(0.9900,1)" font-size="34.6" fill="#000">Bird Voices (2)</text>
<text transform="translate(39.79,841) scale(0.9900,1)" font-size="34.6" fill="#000">Human Voice</text>
<text transform="translate(43.45,949) scale(0.9900,1)" font-size="34.6" fill="#000">Wind</text>
<text transform="translate(39.79,1057.1) scale(0.9900,1)" font-size="34.6" fill="#000">Door Slam</text>
<text transform="translate(40.86,1164.9) scale(0.9900,1)" font-size="34.6" fill="#000">'Creaking'</text>
<text transform="translate(323.11,210.9)" font-size="35.3" fill="#000">10</text>
<text transform="translate(323.11,1323.6)" font-size="35.3" fill="#000">10</text>
<text transform="translate(378.22,210.9)" font-size="35.3" fill="#000">20</text>
<text transform="translate(378.22,1323.6)" font-size="35.3" fill="#000">20</text>
<text transform="translate(432.76,210.9)" font-size="35.3" fill="#000">30</text>
<text transform="translate(432.76,1323.6)" font-size="35.3" fill="#000">30</text>
<text transform="translate(486.79,210.9)" font-size="35.3" fill="#000">40</text>
<text transform="translate(486.79,1323.6)" font-size="35.3" fill="#000">40</text>
<text transform="translate(540.09,210.9)" font-size="35.3" fill="#000">50</text>
<text transform="translate(540.09,1323.6)" font-size="35.3" fill="#000">50</text>
<text transform="translate(646.71,210.9)" font-size="35.3" fill="#000">10</text>
<text transform="translate(646.71,1323.6)" font-size="35.3" fill="#000">10</text>
<text transform="translate(701.52,210.9)" font-size="35.3" fill="#000">20</text>
<text transform="translate(701.52,1323.6)" font-size="35.3" fill="#000">20</text>
<text transform="translate(756.96,210.9)" font-size="35.3" fill="#000">30</text>
<text transform="translate(756.96,1323.6)" font-size="35.3" fill="#000">30</text>
<text transform="translate(811.39,210.9)" font-size="35.3" fill="#000">40</text>
<text transform="translate(811.39,1323.6)" font-size="35.3" fill="#000">40</text>
<text transform="translate(864.09,210.9)" font-size="35.3" fill="#000">50</text>
<text transform="translate(864.09,1323.6)" font-size="35.3" fill="#000">50</text>
<text transform="translate(970.11,210.9)" font-size="35.3" fill="#000">10</text>
<text transform="translate(970.11,1323.6)" font-size="35.3" fill="#000">10</text>
<text transform="translate(1025.42,210.9)" font-size="35.3" fill="#000">20</text>
<text transform="translate(1025.42,1323.6)" font-size="35.3" fill="#000">20</text>
<text transform="translate(1079.86,210.9)" font-size="35.3" fill="#000">30</text>
<text transform="translate(1079.86,1323.6)" font-size="35.3" fill="#000">30</text>
<text transform="translate(1134.29,210.9)" font-size="35.3" fill="#000">40</text>
<text transform="translate(1134.29,1323.6)" font-size="35.3" fill="#000">40</text>
<text transform="translate(1187.59,210.9)" font-size="35.3" fill="#000">50</text>
<text transform="translate(1187.59,1323.6)" font-size="35.3" fill="#000">50</text>
<text transform="translate(1294.01,210.9)" font-size="35.3" fill="#000">10</text>
<text transform="translate(1294.01,1323.6)" font-size="35.3" fill="#000">10</text>
<text transform="translate(1348.82,210.9)" font-size="35.3" fill="#000">20</text>
<text transform="translate(1348.82,1323.6)" font-size="35.3" fill="#000">20</text>
<text transform="translate(1403.46,210.9)" font-size="35.3" fill="#000">30</text>
<text transform="translate(1403.46,1323.6)" font-size="35.3" fill="#000">30</text>
<text transform="translate(1457.09,210.9)" font-size="35.3" fill="#000">40</text>
<text transform="translate(1457.09,1323.6)" font-size="35.3" fill="#000">40</text>
<text transform="translate(1510.69,210.9)" font-size="35.3" fill="#000">50</text>
<text transform="translate(1510.69,1323.6)" font-size="35.3" fill="#000">50</text>
<text transform="translate(1617.01,210.9)" font-size="35.3" fill="#000">10</text>
<text transform="translate(1617.01,1323.6)" font-size="35.3" fill="#000">10</text>
<text transform="translate(1672.12,210.9)" font-size="35.3" fill="#000">20</text>
<text transform="translate(1672.12,1323.6)" font-size="35.3" fill="#000">20</text>
<text transform="translate(1719.46,210.9)" font-size="35.3" fill="#000">30</text>
<text transform="translate(1726.26,1323.6)" font-size="35.3" fill="#000">30</text>
<circle cx="600.1" cy="157.5" r="22.4" fill="none" stroke="#000" stroke-width="1.6"/>
<text transform="translate(590.18,169.2)" font-size="34" fill="#000">1</text>
<circle cx="918.4" cy="155.7" r="22.4" fill="none" stroke="#000" stroke-width="1.6"/>
<text transform="translate(908.95,167.4)" font-size="34" fill="#000">2</text>
<circle cx="1245.2" cy="153.7" r="22.4" fill="none" stroke="#000" stroke-width="1.6"/>
<text transform="translate(1235.85,165.4)" font-size="34" fill="#000">3</text>
<circle cx="1568.5" cy="153.8" r="22.4" fill="none" stroke="#000" stroke-width="1.6"/>
<text transform="translate(1559.15,165.5)" font-size="34" fill="#000">4</text>
<circle cx="600.6" cy="1354.6" r="22.4" fill="none" stroke="#000" stroke-width="1.6"/>
<text transform="translate(590.68,1366.3)" font-size="34" fill="#000">1</text>
<circle cx="918.6" cy="1352.7" r="22.4" fill="none" stroke="#000" stroke-width="1.6"/>
<text transform="translate(909.15,1364.4)" font-size="34" fill="#000">2</text>
<circle cx="1245" cy="1350.3" r="22.4" fill="none" stroke="#000" stroke-width="1.6"/>
<text transform="translate(1235.65,1362)" font-size="34" fill="#000">3</text>
<circle cx="1568.4" cy="1350.4" r="22.4" fill="none" stroke="#000" stroke-width="1.6"/>
<text transform="translate(1559.05,1362.1)" font-size="34" fill="#000">4</text>
<text transform="translate(1777.9,161.75) rotate(-90) scale(1.11,1)" font-size="25.3" stroke="#fff" stroke-width="0.25">4<tspan dy="-2.5">’</tspan><tspan dy="2.5">33</tspan><tspan dy="-2.5">”</tspan></text>
<text transform="translate(1717.79,1370.9) scale(1.0082,1)" font-size="22.53" fill="#000">TIME (SECONDS)</text>
<rect x="1717.1" y="1375" width="55.2" height="1.5" fill="#000"/>
<text transform="translate(1788.83,249.8) scale(0.9775,1)" font-size="34.74" font-weight="bold" fill="#000">KEY</text>
<rect x="1789" y="255" width="71" height="2" fill="#000"/>
<text transform="translate(1790.77,333.9) scale(0.9972,1)" font-size="27.18" fill="#000">Sound durations</text>
<rect x="1790.2" y="338.7" width="198.8" height="1.5" fill="#000"/>
<rect x="1792.8" y="366.9" width="10.5" height="10" fill="#f5d533"/>
<rect x="1808.3" y="366.9" width="11.6" height="10" fill="#f5d533"/>
<rect x="1824.9" y="366.9" width="11.6" height="10" fill="#f5d533"/>
<rect x="1841.5" y="366.9" width="10.5" height="10" fill="#f5d533"/>
<rect x="1852" y="365" width="51.6" height="13.5" fill="#000"/>
<rect x="1903.6" y="361" width="74.5" height="21.8" fill="#ff0000"/>
<text transform="translate(1817.05,410.8) scale(0.9865,1)" font-size="22.97" fill="#000">Continuous Sound</text>
<rect x="1792.8" y="446.4" width="8.7" height="16.6" fill="#000"/>
<text transform="translate(1815.91,480) scale(0.9885,1)" font-size="22.97" fill="#000">Individual Sound</text>
<text transform="translate(1789.37,585.9) scale(1.0349,1)" font-size="26.31" fill="#000">Relative Volume</text>
<rect x="1789.3" y="591.3" width="199" height="1.5" fill="#000"/>
<rect x="1812" y="606.1" width="91.2" height="21.8" fill="#ff0000"/>
<text transform="translate(1815.62,654.4) scale(1.0101,1)" font-size="22.67" fill="#000">High volume</text>
<rect x="1812" y="683.5" width="87.3" height="13.8" fill="#000"/>
<text transform="translate(1815.62,726) scale(1.0223,1)" font-size="22.38" fill="#000">Mid volume</text>
<rect x="1812" y="749.55" width="7.95" height="10.5" fill="#f5d533"/>
<rect x="1824.95" y="749.55" width="11.6" height="10.5" fill="#f5d533"/>
<rect x="1841.55" y="749.55" width="11.6" height="10.5" fill="#f5d533"/>
<rect x="1858.15" y="749.55" width="11.6" height="10.5" fill="#f5d533"/>
<rect x="1874.75" y="749.55" width="11.6" height="10.5" fill="#f5d533"/>
<rect x="1891.35" y="749.55" width="7.95" height="10.5" fill="#f5d533"/>
<text transform="translate(1815.62,784) scale(1.0265,1)" font-size="22.38" fill="#000">Low volume</text>
<rect x="1814.2" y="820.2" width="8.8" height="16.6" fill="#000"/>
<text transform="translate(1815.62,860.9) scale(1.0223,1)" font-size="22.38" fill="#000">Mid volume</text>
<circle cx="1819.7" cy="897.6" r="11.4" fill="none" stroke="#f5d533" stroke-width="1.9"/>
<rect x="1817.6" y="889.3" width="3.9" height="17.2" fill="#f5d533"/>
<text transform="translate(1815.62,932.7) scale(1.0265,1)" font-size="22.38" fill="#000">Low volume</text>
<rect x="468.9" y="277" width="60" height="21.9" fill="#ff0000"/>
<rect x="528.9" y="283.1" width="26.9" height="9.8" fill="#f5d533"/>
<rect x="590.3" y="283.1" width="12.7" height="9.8" fill="#f5d533"/>
<rect x="613.2" y="283.1" width="12.8" height="9.8" fill="#f5d533"/>
<rect x="755.5" y="281.2" width="171.9" height="13.6" fill="#000"/>
<text transform="translate(474,268.5) rotate(-90) scale(0.960,1)" font-size="19.2">35&quot;</text>
<text transform="translate(534.5,268.22) rotate(-90) scale(0.960,1)" font-size="19.2">46&quot;</text>
<text transform="translate(567.8,268.54) rotate(-90) scale(0.960,1)" font-size="19.2">51&quot;</text>
<text transform="translate(602.4,268.54) rotate(-90) scale(0.960,1)" font-size="19.2">59&quot;</text>
<text transform="translate(635.7,269.2) rotate(-90) scale(0.960,1)" font-size="19.2">1'04&quot;</text>
<text transform="translate(758.2,269.2) rotate(-90) scale(0.960,1)" font-size="19.2">1'28&quot;</text>
<text transform="translate(948.3,268.73) rotate(-90) scale(0.960,1)" font-size="19.2">2'0&quot;</text>
<rect x="318.1" y="390.8" width="11" height="9.8" fill="#f5d533"/>
<rect x="334.1" y="390.8" width="11.6" height="9.8" fill="#f5d533"/>
<rect x="350.7" y="390.8" width="11" height="9.8" fill="#f5d533"/>
<rect x="404.5" y="390.8" width="12.95" height="9.8" fill="#f5d533"/>
<rect x="422.45" y="390.8" width="11.6" height="9.8" fill="#f5d533"/>
<rect x="439.05" y="390.8" width="11.6" height="9.8" fill="#f5d533"/>
<rect x="455.65" y="390.8" width="12.95" height="9.8" fill="#f5d533"/>
<rect x="468.6" y="384.7" width="49.4" height="21.9" fill="#ff0000"/>
<rect x="625.2" y="390.8" width="7.9" height="9.8" fill="#f5d533"/>
<rect x="638.1" y="390.8" width="11.6" height="9.8" fill="#f5d533"/>
<rect x="654.7" y="390.8" width="11.6" height="9.8" fill="#f5d533"/>
<rect x="671.3" y="390.8" width="11.6" height="9.8" fill="#f5d533"/>
<rect x="687.9" y="390.8" width="11.6" height="9.8" fill="#f5d533"/>
<rect x="704.5" y="390.8" width="7.9" height="9.8" fill="#f5d533"/>
<rect x="927.3" y="384.7" width="59.4" height="21.9" fill="#ff0000"/>
<rect x="986.7" y="390.8" width="13.6" height="9.8" fill="#f5d533"/>
<rect x="1005.3" y="390.8" width="11.6" height="9.8" fill="#f5d533"/>
<rect x="1021.9" y="390.8" width="13.6" height="9.8" fill="#f5d533"/>
<rect x="1271.8" y="390.8" width="7.75" height="9.8" fill="#f5d533"/>
<rect x="1284.55" y="390.8" width="11.6" height="9.8" fill="#f5d533"/>
<rect x="1301.15" y="390.8" width="11.6" height="9.8" fill="#f5d533"/>
<rect x="1317.75" y="390.8" width="11.6" height="9.8" fill="#f5d533"/>
<rect x="1334.35" y="390.8" width="11.6" height="9.8" fill="#f5d533"/>
<rect x="1350.95" y="390.8" width="7.75" height="9.8" fill="#f5d533"/>
<rect x="1358.7" y="384.7" width="64.9" height="21.9" fill="#ff0000"/>
<rect x="1644.2" y="390.8" width="10.2" height="9.8" fill="#f5d533"/>
<rect x="1659.4" y="390.8" width="11.6" height="9.8" fill="#f5d533"/>
<rect x="1676" y="390.8" width="11.6" height="9.8" fill="#f5d533"/>
<rect x="1692.6" y="390.8" width="11.6" height="9.8" fill="#f5d533"/>
<rect x="1709.2" y="390.8" width="11.6" height="9.8" fill="#f5d533"/>
<rect x="1725.8" y="390.8" width="10.2" height="9.8" fill="#f5d533"/>
<text transform="translate(323.1,378.14) rotate(-90) scale(0.960,1)" font-size="19.2">7&quot;</text>
<text transform="translate(366.6,379.2) rotate(-90) scale(0.960,1)" font-size="19.2">15&quot;</text>
<text transform="translate(412,377.53) rotate(-90) scale(0.960,1)" font-size="19.2">23&quot;</text>
<text transform="translate(472.9,377.3) rotate(-90) scale(0.960,1)" font-size="19.2">35&quot;</text>
<text transform="translate(522,377.02) rotate(-90) scale(0.960,1)" font-size="19.2">44&quot;</text>
<text transform="translate(635.4,373.4) rotate(-90) scale(0.960,1)" font-size="19.2">1'04&quot;</text>
<text transform="translate(730.2,373.4) rotate(-90) scale(0.960,1)" font-size="19.2">1'20&quot;</text>
<text transform="translate(922.9,372.93) rotate(-90) scale(0.960,1)" font-size="19.2">2'0&quot;</text>
<text transform="translate(1000.6,372.93) rotate(-90) scale(0.960,1)" font-size="19.2">2'10&quot;</text>
<text transform="translate(1054.3,372.93) rotate(-90) scale(0.960,1)" font-size="19.2">2'20&quot;</text>
<text transform="translate(1271,372.8) rotate(-90) scale(0.960,1)" font-size="19.2">3'04&quot;</text>
<text transform="translate(1376,372.8) rotate(-90) scale(0.960,1)" font-size="19.2">3'20&quot;</text>
<text transform="translate(1432.5,372.8) rotate(-90) scale(0.960,1)" font-size="19.2">3'32&quot;</text>
<text transform="translate(1647,372.52) rotate(-90) scale(0.960,1)" font-size="19.2">4'13&quot;</text>
<text transform="translate(1751.4,372.52) rotate(-90) scale(0.960,1)" font-size="19.2">4'30&quot;</text>
<rect x="517.4" y="498.6" width="8.15" height="9.8" fill="#f5d533"/>
<rect x="530.55" y="498.6" width="11.6" height="9.8" fill="#f5d533"/>
<rect x="547.15" y="498.6" width="8.15" height="9.8" fill="#f5d533"/>
<rect x="555.3" y="492.5" width="43.7" height="21.9" fill="#ff0000"/>
<rect x="1445.7" y="496.7" width="79.9" height="13.6" fill="#000"/>
<rect x="1525.6" y="492.5" width="48.8" height="21.9" fill="#ff0000"/>
<rect x="1574.4" y="498.6" width="8.9" height="9.8" fill="#f5d533"/>
<rect x="1588.3" y="498.6" width="11.6" height="9.8" fill="#f5d533"/>
<rect x="1604.9" y="498.6" width="11.6" height="9.8" fill="#f5d533"/>
<rect x="1621.5" y="498.6" width="11.6" height="9.8" fill="#f5d533"/>
<rect x="1638.1" y="498.6" width="8.9" height="9.8" fill="#f5d533"/>
<text transform="translate(520.8,485.02) rotate(-90) scale(0.960,1)" font-size="19.2">44&quot;</text>
<text transform="translate(565.2,485.34) rotate(-90) scale(0.960,1)" font-size="19.2">51&quot;</text>
<text transform="translate(603.3,485.34) rotate(-90) scale(0.960,1)" font-size="19.2">59&quot;</text>
<text transform="translate(1449.8,484.9) rotate(-90) scale(0.960,1)" font-size="19.2">3'36&quot;</text>
<text transform="translate(1538.9,484.9) rotate(-90) scale(0.960,1)" font-size="19.2">3'51&quot;</text>
<text transform="translate(1646.7,484.62) rotate(-90) scale(0.960,1)" font-size="19.2">4'13&quot;</text>
<rect x="280.2" y="606.5" width="9.25" height="9.8" fill="#f5d533"/>
<rect x="294.45" y="606.5" width="11.6" height="9.8" fill="#f5d533"/>
<rect x="311.05" y="606.5" width="11.6" height="9.8" fill="#f5d533"/>
<rect x="327.65" y="606.5" width="11.6" height="9.8" fill="#f5d533"/>
<rect x="344.25" y="606.5" width="11.6" height="9.8" fill="#f5d533"/>
<rect x="360.85" y="606.5" width="11.6" height="9.8" fill="#f5d533"/>
<rect x="377.45" y="606.5" width="11.6" height="9.8" fill="#f5d533"/>
<rect x="394.05" y="606.5" width="11.6" height="9.8" fill="#f5d533"/>
<rect x="410.65" y="606.5" width="11.6" height="9.8" fill="#f5d533"/>
<rect x="427.25" y="606.5" width="11.6" height="9.8" fill="#f5d533"/>
<rect x="443.85" y="606.5" width="11.6" height="9.8" fill="#f5d533"/>
<rect x="460.45" y="606.5" width="9.25" height="9.8" fill="#f5d533"/>
<rect x="598.3" y="606.5" width="12.75" height="9.8" fill="#f5d533"/>
<rect x="616.05" y="606.5" width="11.6" height="9.8" fill="#f5d533"/>
<rect x="632.65" y="606.5" width="11.6" height="9.8" fill="#f5d533"/>
<rect x="649.25" y="606.5" width="11.6" height="9.8" fill="#f5d533"/>
<rect x="665.85" y="606.5" width="11.6" height="9.8" fill="#f5d533"/>
<rect x="682.45" y="606.5" width="11.6" height="9.8" fill="#f5d533"/>
<rect x="699.05" y="606.5" width="11.6" height="9.8" fill="#f5d533"/>
<rect x="715.65" y="606.5" width="11.6" height="9.8" fill="#f5d533"/>
<rect x="732.25" y="606.5" width="11.6" height="9.8" fill="#f5d533"/>
<rect x="748.85" y="606.5" width="11.6" height="9.8" fill="#f5d533"/>
<rect x="765.45" y="606.5" width="11.6" height="9.8" fill="#f5d533"/>
<rect x="782.05" y="606.5" width="11.6" height="9.8" fill="#f5d533"/>
<rect x="798.65" y="606.5" width="11.6" height="9.8" fill="#f5d533"/>
<rect x="815.25" y="606.5" width="11.6" height="9.8" fill="#f5d533"/>
<rect x="831.85" y="606.5" width="11.6" height="9.8" fill="#f5d533"/>
<rect x="848.45" y="606.5" width="11.6" height="9.8" fill="#f5d533"/>
<rect x="865.05" y="606.5" width="11.6" height="9.8" fill="#f5d533"/>
<rect x="881.65" y="606.5" width="11.6" height="9.8" fill="#f5d533"/>
<rect x="898.25" y="606.5" width="11.6" height="9.8" fill="#f5d533"/>
<rect x="914.85" y="606.5" width="12.75" height="9.8" fill="#f5d533"/>
<rect x="981.3" y="606.5" width="12.15" height="9.8" fill="#f5d533"/>
<rect x="998.45" y="606.5" width="11.6" height="9.8" fill="#f5d533"/>
<rect x="1015.05" y="606.5" width="11.6" height="9.8" fill="#f5d533"/>
<rect x="1031.65" y="606.5" width="11.6" height="9.8" fill="#f5d533"/>
<rect x="1048.25" y="606.5" width="11.6" height="9.8" fill="#f5d533"/>
<rect x="1064.85" y="606.5" width="11.6" height="9.8" fill="#f5d533"/>
<rect x="1081.45" y="606.5" width="11.6" height="9.8" fill="#f5d533"/>
<rect x="1098.05" y="606.5" width="11.6" height="9.8" fill="#f5d533"/>
<rect x="1114.65" y="606.5" width="11.6" height="9.8" fill="#f5d533"/>
<rect x="1131.25" y="606.5" width="11.6" height="9.8" fill="#f5d533"/>
<rect x="1147.85" y="606.5" width="11.6" height="9.8" fill="#f5d533"/>
<rect x="1164.45" y="606.5" width="11.6" height="9.8" fill="#f5d533"/>
<rect x="1181.05" y="606.5" width="11.6" height="9.8" fill="#f5d533"/>
<rect x="1197.65" y="606.5" width="11.6" height="9.8" fill="#f5d533"/>
<rect x="1214.25" y="606.5" width="11.6" height="9.8" fill="#f5d533"/>
<rect x="1230.85" y="606.5" width="11.6" height="9.8" fill="#f5d533"/>
<rect x="1247.45" y="606.5" width="11.6" height="9.8" fill="#f5d533"/>
<rect x="1264.05" y="606.5" width="11.6" height="9.8" fill="#f5d533"/>
<rect x="1280.65" y="606.5" width="11.6" height="9.8" fill="#f5d533"/>
<rect x="1297.25" y="606.5" width="11.6" height="9.8" fill="#f5d533"/>
<rect x="1313.85" y="606.5" width="11.6" height="9.8" fill="#f5d533"/>
<rect x="1330.45" y="606.5" width="11.6" height="9.8" fill="#f5d533"/>
<rect x="1347.05" y="606.5" width="12.15" height="9.8" fill="#f5d533"/>
<rect x="1573.9" y="606.5" width="12.4" height="9.8" fill="#f5d533"/>
<rect x="1591.3" y="606.5" width="11.6" height="9.8" fill="#f5d533"/>
<rect x="1607.9" y="606.5" width="11.6" height="9.8" fill="#f5d533"/>
<rect x="1624.5" y="606.5" width="11.6" height="9.8" fill="#f5d533"/>
<rect x="1641.1" y="606.5" width="11.6" height="9.8" fill="#f5d533"/>
<rect x="1657.7" y="606.5" width="11.6" height="9.8" fill="#f5d533"/>
<rect x="1674.3" y="606.5" width="11.6" height="9.8" fill="#f5d533"/>
<rect x="1690.9" y="606.5" width="11.6" height="9.8" fill="#f5d533"/>
<rect x="1707.5" y="606.5" width="11.6" height="9.8" fill="#f5d533"/>
<rect x="1724.1" y="606.5" width="12.4" height="9.8" fill="#f5d533"/>
<text transform="translate(481.4,600.5) rotate(-90) scale(0.960,1)" font-size="19.2">35&quot;</text>
<text transform="translate(604.1,600.74) rotate(-90) scale(0.960,1)" font-size="19.2">59&quot;</text>
<text transform="translate(945.6,601.03) rotate(-90) scale(0.960,1)" font-size="19.2">2'0&quot;</text>
<text transform="translate(981.8,601.03) rotate(-90) scale(0.960,1)" font-size="19.2">2'10&quot;</text>
<text transform="translate(1375,600.2) rotate(-90) scale(0.960,1)" font-size="19.2">3'20&quot;</text>
<text transform="translate(1574.4,599.92) rotate(-90) scale(0.960,1)" font-size="19.2">4'0&quot;</text>
<rect x="317" y="711" width="3.2" height="16.8" fill="#000"/>
<rect x="343.5" y="711" width="3.2" height="16.8" fill="#000"/>
<rect x="354" y="711" width="3.2" height="16.8" fill="#000"/>
<rect x="370.8" y="711" width="3.2" height="16.8" fill="#000"/>
<rect x="413.7" y="711" width="3.2" height="16.8" fill="#000"/>
<rect x="429.9" y="711" width="3.2" height="16.8" fill="#000"/>
<rect x="456.2" y="711" width="3.2" height="16.8" fill="#000"/>
<rect x="625.2" y="711" width="3.2" height="16.8" fill="#000"/>
<rect x="666.8" y="711" width="3.2" height="16.8" fill="#000"/>
<rect x="694.2" y="711" width="3.2" height="16.8" fill="#000"/>
<rect x="704.9" y="711" width="3.2" height="16.8" fill="#000"/>
<rect x="725.8" y="711" width="3.2" height="16.8" fill="#000"/>
<rect x="753.4" y="711" width="3.2" height="16.8" fill="#000"/>
<rect x="786" y="711" width="3.2" height="16.8" fill="#000"/>
<rect x="909.1" y="711" width="3.2" height="16.8" fill="#000"/>
<rect x="1416.5" y="711" width="3.2" height="16.8" fill="#000"/>
<rect x="1740.3" y="711" width="3.2" height="16.8" fill="#000"/>
<circle cx="485.6" cy="719.2" r="11.5" fill="none" stroke="#000" stroke-width="1.7"/>
<rect x="484.1" y="711" width="3" height="16.8" fill="#000"/>
<circle cx="508.3" cy="719.2" r="11.5" fill="none" stroke="#000" stroke-width="1.7"/>
<rect x="506.8" y="711" width="3" height="16.8" fill="#000"/>
<circle cx="529.8" cy="719.2" r="11.5" fill="none" stroke="#000" stroke-width="1.7"/>
<rect x="528.3" y="711" width="3" height="16.8" fill="#000"/>
<circle cx="976.2" cy="719.2" r="11.5" fill="none" stroke="#000" stroke-width="1.7"/>
<rect x="974.7" y="711" width="3" height="16.8" fill="#000"/>
<text transform="translate(324.3,704.35) rotate(-90) scale(0.960,1)" font-size="19.2">7&quot;</text>
<text transform="translate(350,705.2) rotate(-90) scale(0.960,1)" font-size="19.2">12&quot;</text>
<text transform="translate(367.8,705.2) rotate(-90) scale(0.960,1)" font-size="19.2">14&quot;</text>
<text transform="translate(383.4,705.2) rotate(-90) scale(0.960,1)" font-size="19.2">17&quot;</text>
<text transform="translate(421.9,702.33) rotate(-90) scale(0.960,1)" font-size="19.2">25&quot;</text>
<text transform="translate(439.5,702.33) rotate(-90) scale(0.960,1)" font-size="19.2">28&quot;</text>
<text transform="translate(466.1,702.8) rotate(-90) scale(0.960,1)" font-size="19.2">35&quot;</text>
<text transform="translate(492.5,702.8) rotate(-90) scale(0.960,1)" font-size="19.2">38&quot;</text>
<text transform="translate(515.8,702.22) rotate(-90) scale(0.960,1)" font-size="19.2">42&quot;</text>
<text transform="translate(537.3,702.22) rotate(-90) scale(0.960,1)" font-size="19.2">46&quot;</text>
<text transform="translate(634.2,703.2) rotate(-90) scale(0.960,1)" font-size="19.2">1'04&quot;</text>
<text transform="translate(676.2,703.2) rotate(-90) scale(0.960,1)" font-size="19.2">1'12&quot;</text>
<text transform="translate(695.4,703.2) rotate(-90) scale(0.960,1)" font-size="19.2">1'17&quot;</text>
<text transform="translate(711.4,703.2) rotate(-90) scale(0.960,1)" font-size="19.2">1'19&quot;</text>
<text transform="translate(735.8,703.2) rotate(-90) scale(0.960,1)" font-size="19.2">1'23&quot;</text>
<text transform="translate(762.6,703.2) rotate(-90) scale(0.960,1)" font-size="19.2">1'28&quot;</text>
<text transform="translate(795,703.2) rotate(-90) scale(0.960,1)" font-size="19.2">1'34&quot;</text>
<text transform="translate(918.5,703.2) rotate(-90) scale(0.960,1)" font-size="19.2">1'57&quot;</text>
<text transform="translate(984,702.73) rotate(-90) scale(0.960,1)" font-size="19.2">2'09&quot;</text>
<text transform="translate(1428.5,700.3) rotate(-90) scale(0.960,1)" font-size="19.2">3'31&quot;</text>
<text transform="translate(1750.3,702.52) rotate(-90) scale(0.960,1)" font-size="19.2">4'31&quot;</text>
<rect x="1054.9" y="767" width="3.2" height="16.6" fill="#000"/>
<rect x="1097.1" y="767" width="3.2" height="16.6" fill="#000"/>
<rect x="1108.5" y="767" width="3.2" height="16.6" fill="#000"/>
<rect x="1129.9" y="767" width="3.2" height="16.6" fill="#000"/>
<rect x="1160.9" y="767" width="3.2" height="16.6" fill="#000"/>
<rect x="1167" y="767" width="3.2" height="16.6" fill="#000"/>
<rect x="1177.8" y="767" width="3.2" height="16.6" fill="#000"/>
<rect x="1211.4" y="767" width="3.2" height="16.6" fill="#000"/>
<text transform="translate(1065.7,761.73) rotate(-90) scale(0.960,1)" font-size="19.2">2'24&quot;</text>
<text transform="translate(1105.5,761.73) rotate(-90) scale(0.960,1)" font-size="19.2">2'32&quot;</text>
<text transform="translate(1120.7,761.73) rotate(-90) scale(0.960,1)" font-size="19.2">2'34&quot;</text>
<text transform="translate(1140.5,761.73) rotate(-90) scale(0.960,1)" font-size="19.2">2'38&quot;</text>
<text transform="translate(1161.2,761.73) rotate(-90) scale(0.960,1)" font-size="19.2">2'44&quot;</text>
<text transform="translate(1178.5,761.73) rotate(-90) scale(0.960,1)" font-size="19.2">2'45&quot;</text>
<text transform="translate(1195.9,761.73) rotate(-90) scale(0.960,1)" font-size="19.2">2'47&quot;</text>
<text transform="translate(1224.2,761.73) rotate(-90) scale(0.960,1)" font-size="19.2">2'53&quot;</text>
<rect x="285.9" y="820.3" width="8.8" height="13.7" fill="#000"/>
<text transform="translate(300.3,812.2) rotate(-90) scale(0.960,1)" font-size="19.2">1&quot;</text>
<text transform="translate(316.9,811.23) rotate(-90) scale(0.960,1)" font-size="19.2">2&quot;</text>
<rect x="381.7" y="930.2" width="7" height="9.8" fill="#f5d533"/>
<rect x="657.8" y="930.2" width="8.2" height="9.8" fill="#f5d533"/>
<rect x="867.9" y="930.2" width="10.8" height="9.8" fill="#f5d533"/>
<rect x="883.7" y="930.2" width="11.6" height="9.8" fill="#f5d533"/>
<rect x="900.3" y="930.2" width="11.6" height="9.8" fill="#f5d533"/>
<rect x="916.9" y="930.2" width="10.8" height="9.8" fill="#f5d533"/>
<rect x="992" y="930.2" width="8.55" height="9.8" fill="#f5d533"/>
<rect x="1005.55" y="930.2" width="8.55" height="9.8" fill="#f5d533"/>
<rect x="1062.1" y="930.2" width="13.1" height="9.8" fill="#f5d533"/>
<rect x="1080.2" y="930.2" width="11.6" height="9.8" fill="#f5d533"/>
<rect x="1096.8" y="930.2" width="11.6" height="9.8" fill="#f5d533"/>
<rect x="1113.4" y="930.2" width="11.6" height="9.8" fill="#f5d533"/>
<rect x="1130" y="930.2" width="13.1" height="9.8" fill="#f5d533"/>
<text transform="translate(385.2,926.1) rotate(-90) scale(0.960,1)" font-size="19.2">19&quot;</text>
<text transform="translate(407.6,925.63) rotate(-90) scale(0.960,1)" font-size="19.2">20&quot;</text>
<text transform="translate(659.3,926.1) rotate(-90) scale(0.960,1)" font-size="19.2">1'10&quot;</text>
<text transform="translate(684.1,926.1) rotate(-90) scale(0.960,1)" font-size="19.2">1'11&quot;</text>
<text transform="translate(873.2,926.1) rotate(-90) scale(0.960,1)" font-size="19.2">1'49&quot;</text>
<text transform="translate(943,925.63) rotate(-90) scale(0.960,1)" font-size="19.2">2'0&quot;</text>
<text transform="translate(999.8,925.63) rotate(-90) scale(0.960,1)" font-size="19.2">2'12&quot;</text>
<text transform="translate(1022.4,925.63) rotate(-90) scale(0.960,1)" font-size="19.2">2'16&quot;</text>
<text transform="translate(1070,925.63) rotate(-90) scale(0.960,1)" font-size="19.2">2'25&quot;</text>
<text transform="translate(1160.9,925.63) rotate(-90) scale(0.960,1)" font-size="19.2">2'40&quot;</text>
<rect x="769.5" y="1034.4" width="8.4" height="16.8" fill="#000"/>
<rect x="1313.6" y="1034.4" width="8.6" height="16.8" fill="#000"/>
<text transform="translate(787,1025.5) rotate(-90) scale(0.960,1)" font-size="19.2">1'32&quot;</text>
<text transform="translate(1331,1025.4) rotate(-90) scale(0.960,1)" font-size="19.2">3'12&quot;</text>
<rect x="1005.8" y="1142.7" width="4.4" height="16.2" fill="#000"/>
<circle cx="728.2" cy="1150.6" r="11.4" fill="none" stroke="#f5d533" stroke-width="1.9"/>
<rect x="726.2" y="1142.5" width="4" height="16.8" fill="#f5d533"/>
<circle cx="1041.3" cy="1150.6" r="11.4" fill="none" stroke="#f5d533" stroke-width="1.9"/>
<rect x="1039.3" y="1142.5" width="4" height="16.8" fill="#f5d533"/>
<circle cx="1073.8" cy="1150.6" r="11.4" fill="none" stroke="#f5d533" stroke-width="1.9"/>
<rect x="1071.8" y="1142.5" width="4" height="16.8" fill="#f5d533"/>
<circle cx="1139.2" cy="1150.6" r="11.4" fill="none" stroke="#f5d533" stroke-width="1.9"/>
<rect x="1137.2" y="1142.5" width="4" height="16.8" fill="#f5d533"/>
<circle cx="1176" cy="1150.6" r="11.4" fill="none" stroke="#f5d533" stroke-width="1.9"/>
<rect x="1174" y="1142.5" width="4" height="16.8" fill="#f5d533"/>
<circle cx="1207.1" cy="1150.6" r="11.4" fill="none" stroke="#f5d533" stroke-width="1.9"/>
<rect x="1205.1" y="1142.5" width="4" height="16.8" fill="#f5d533"/>
<circle cx="1239.6" cy="1150.6" r="11.4" fill="none" stroke="#f5d533" stroke-width="1.9"/>
<rect x="1237.6" y="1142.5" width="4" height="16.8" fill="#f5d533"/>
<circle cx="1267.8" cy="1150.6" r="11.4" fill="none" stroke="#f5d533" stroke-width="1.9"/>
<rect x="1265.8" y="1142.5" width="4" height="16.8" fill="#f5d533"/>
<circle cx="1312.2" cy="1150.6" r="11.4" fill="none" stroke="#f5d533" stroke-width="1.9"/>
<rect x="1310.2" y="1142.5" width="4" height="16.8" fill="#f5d533"/>
<circle cx="1632" cy="1150.6" r="11.4" fill="none" stroke="#f5d533" stroke-width="1.9"/>
<rect x="1630" y="1142.5" width="4" height="16.8" fill="#f5d533"/>
<circle cx="1661.2" cy="1150.6" r="11.4" fill="none" stroke="#f5d533" stroke-width="1.9"/>
<rect x="1659.2" y="1142.5" width="4" height="16.8" fill="#f5d533"/>
<circle cx="1695.1" cy="1150.6" r="11.4" fill="none" stroke="#f5d533" stroke-width="1.9"/>
<rect x="1693.1" y="1142.5" width="4" height="16.8" fill="#f5d533"/>
<text transform="translate(734.3,1126.8) rotate(-90) scale(0.960,1)" font-size="19.2">1'23&quot;</text>
<text transform="translate(1016.5,1125.63) rotate(-90) scale(0.960,1)" font-size="19.2">2'15&quot;</text>
<text transform="translate(1048.6,1125.63) rotate(-90) scale(0.960,1)" font-size="19.2">2'21&quot;</text>
<text transform="translate(1079.2,1125.63) rotate(-90) scale(0.960,1)" font-size="19.2">2'27&quot;</text>
<text transform="translate(1145.2,1125.63) rotate(-90) scale(0.960,1)" font-size="19.2">2'39&quot;</text>
<text transform="translate(1182,1125.63) rotate(-90) scale(0.960,1)" font-size="19.2">2'46&quot;</text>
<text transform="translate(1214,1125.63) rotate(-90) scale(0.960,1)" font-size="19.2">2'52&quot;</text>
<text transform="translate(1246,1125.63) rotate(-90) scale(0.960,1)" font-size="19.2">2'58&quot;</text>
<text transform="translate(1280.6,1125.4) rotate(-90) scale(0.960,1)" font-size="19.2">3'03&quot;</text>
<text transform="translate(1317.9,1125.4) rotate(-90) scale(0.960,1)" font-size="19.2">3'11&quot;</text>
<text transform="translate(1634.4,1125.42) rotate(-90) scale(0.960,1)" font-size="19.2">4'10&quot;</text>
<text transform="translate(1667,1125.42) rotate(-90) scale(0.960,1)" font-size="19.2">4'16&quot;</text>
<text transform="translate(1700.4,1125.42) rotate(-90) scale(0.960,1)" font-size="19.2">4'22&quot;</text>
</svg>
</body></html>
